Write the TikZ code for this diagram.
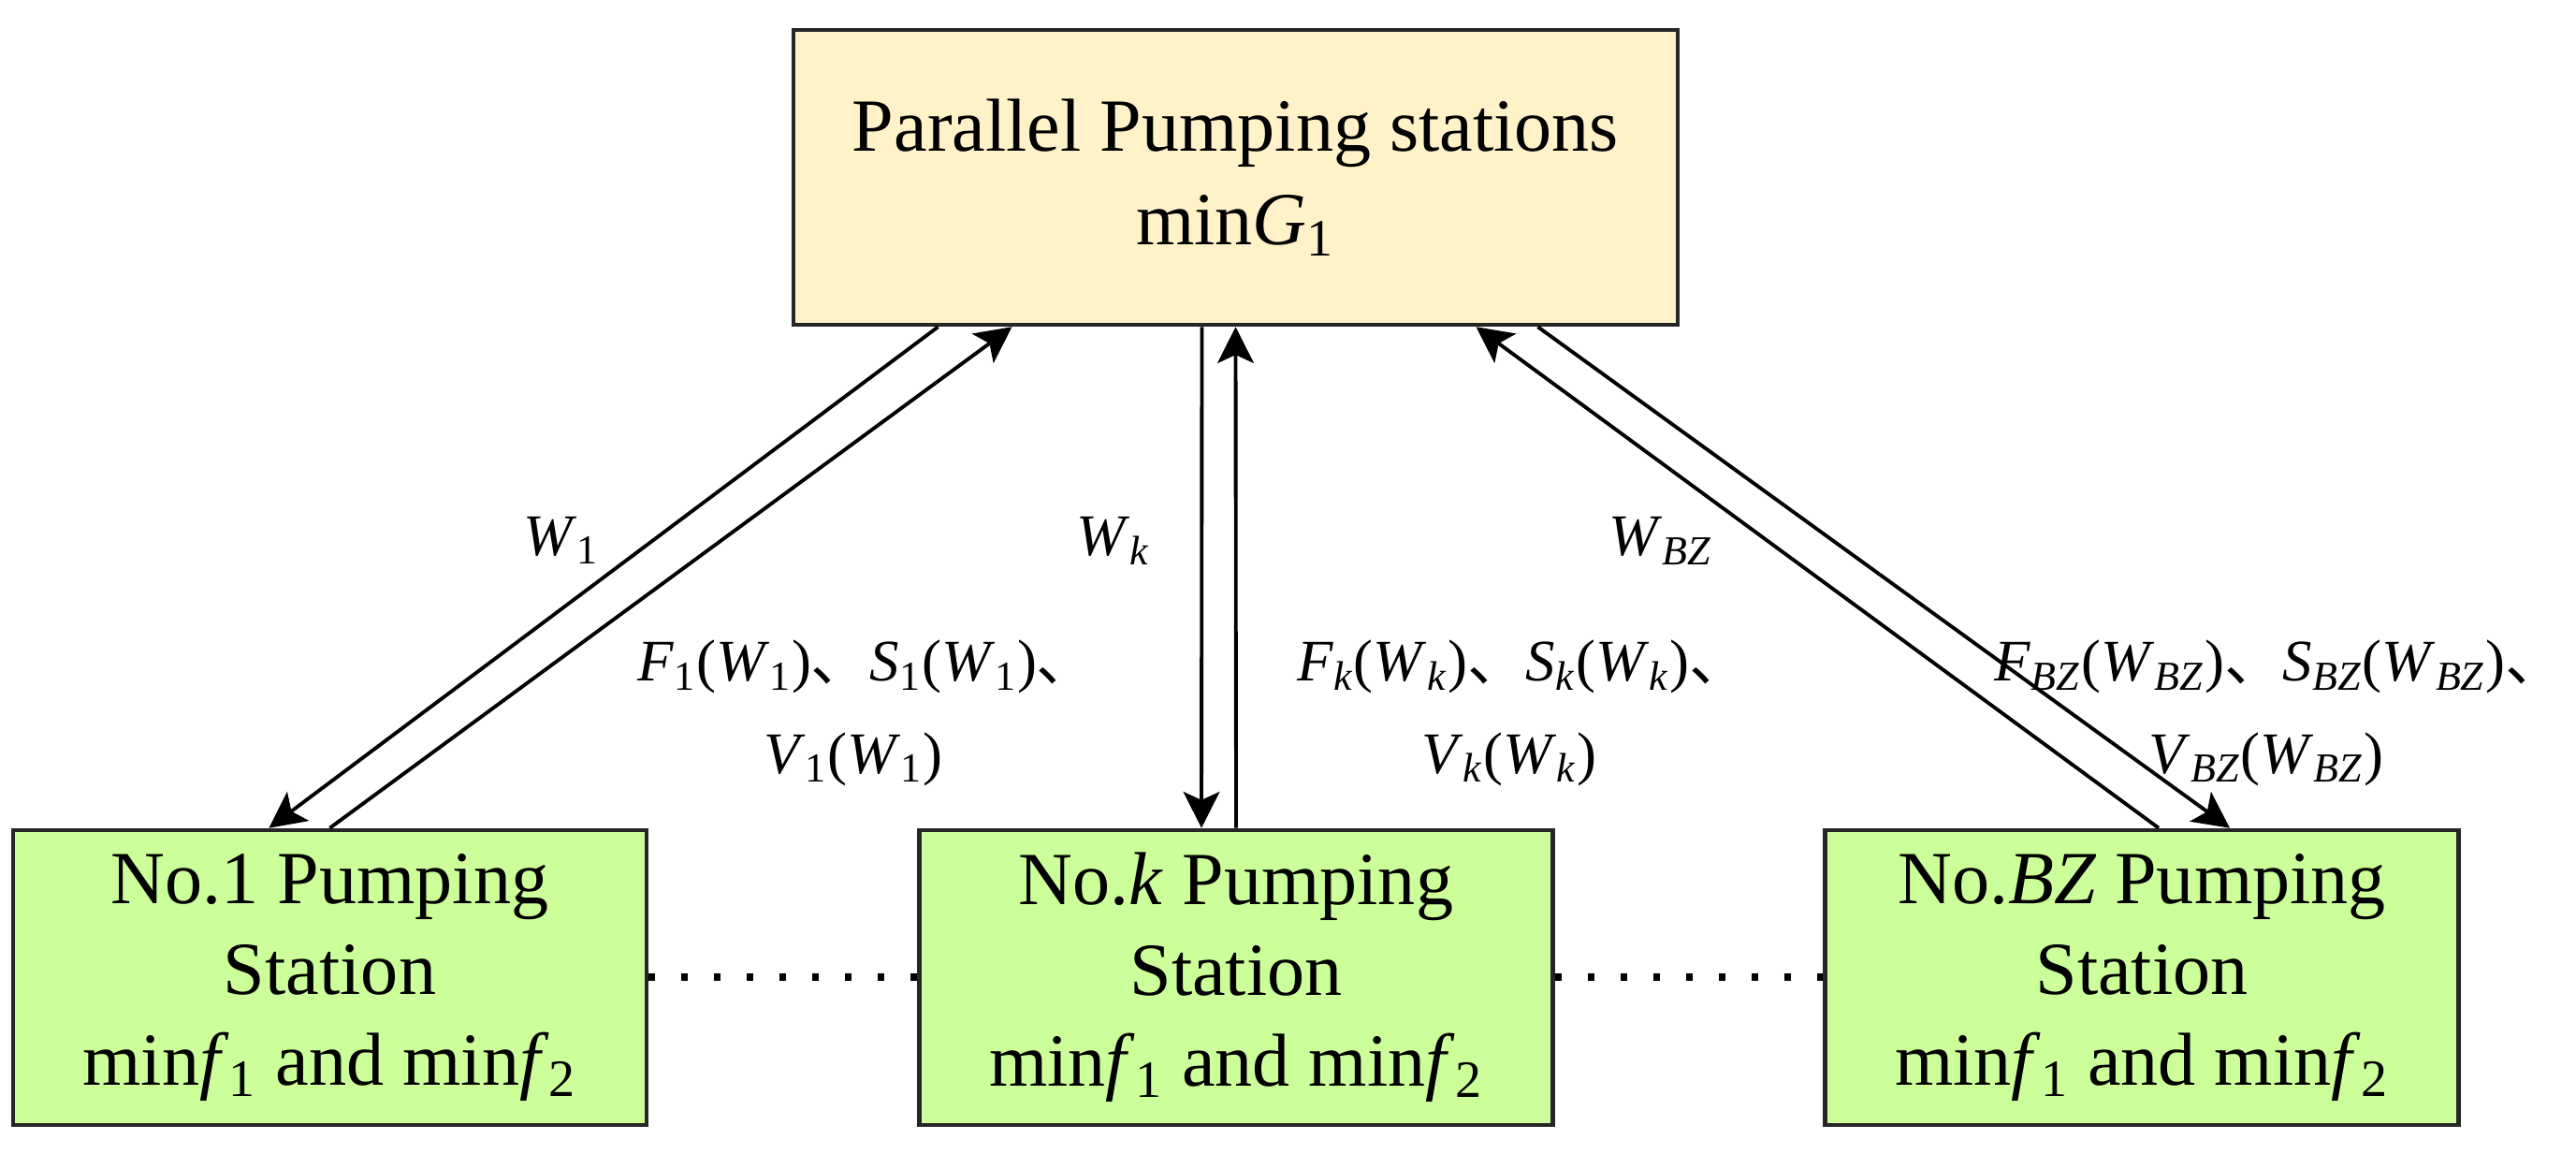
\documentclass[tikz,border=0pt]{standalone}
\usepackage{fontspec}
\setmainfont{Liberation Serif}
\newfontfamily\cjk{Noto Sans CJK SC}
\usetikzlibrary{arrows.meta}
\definecolor{topfill}{RGB}{255,242,200}
\definecolor{stfill}{RGB}{204,255,153}
\newcommand{\vsub}[2]{\textit{#1}\textsubscript{#2}}
\newcommand{\dun}{{\cjk 、}}
\newcommand{\dunend}{\makebox[0.55em][l]{\cjk 、}}

\begin{document}
\begin{tikzpicture}[
  box/.style={draw=black!85, line width=1.3pt, minimum height=3.15cm, align=center, inner sep=0pt, font=\fontsize{22.8}{27.6}\selectfont},
  lbl/.style={align=center, inner sep=0pt, font=\fontsize{17.9}{28}\selectfont},
  flow/.style={-{Stealth[length=11pt,width=11pt,inset=2.5pt]}, line width=1.1pt}]
\useasboundingbox (0,0) rectangle (27.53,12.33);
% boxes
\node[box, fill=topfill, minimum width=9.45cm, font=\fontsize{22.8}{28.4}\selectfont] (top) at (13.205,10.435) {Parallel Pumping stations\\min\vsub{G}{1}};
\node[box, fill=stfill, minimum width=6.77cm] (st1) at (3.525,1.885) {No.1 Pumping\\Station\\min\vsub{f}{1} and min\vsub{f}{2}};
\node[box, fill=stfill, minimum width=6.77cm] (stk) at (13.21,1.885) {No.\textit{k} Pumping\\Station\\min\vsub{f}{1} and min\vsub{f}{2}};
\node[box, fill=stfill, minimum width=6.77cm] (stbz) at (22.89,1.885) {No.\textit{BZ} Pumping\\Station\\min\vsub{f}{1} and min\vsub{f}{2}};
% arrows
\draw[flow] ([xshift=-3.18cm]top.south) -- ([xshift=-0.65cm]st1.north);
\draw[flow] (st1.north) -- ([xshift=-2.39cm]top.south);
\draw[flow] ([xshift=-0.36cm]top.south) -- ([xshift=-0.37cm]stk.north);
\draw[flow] (stk.north) -- (top.south);
\draw[flow] ([xshift=3.23cm]top.south) -- ([xshift=0.94cm]stbz.north);
\draw[flow] ([xshift=0.18cm]stbz.north) -- ([xshift=2.57cm]top.south);
% dots between stations
\draw[line width=0.08cm, dash pattern=on 0.07cm off 0.28cm] (st1.east) -- (stk.west);
\draw[line width=0.08cm, dash pattern=on 0.07cm off 0.28cm] (stk.east) -- (stbz.west);
% labels
\node[lbl] (w1) at (6.00,6.56) {\vsub{W}{1}};
\node[lbl] (wk) at (11.90,6.55) {\vsub{W}{\textit{k}}};
\node[lbl] (wbz) at (17.75,6.55) {\vsub{W}{\textit{BZ}}};
\node[lbl] (f1) at (9.12,4.71) {\vsub{F}{1}(\vsub{W}{1})\dun\vsub{S}{1}(\vsub{W}{1})\dunend\\\vsub{V}{1}(\vsub{W}{1})};
\node[lbl] (fk) at (16.13,4.71) {\vsub{F}{\textit{k}}(\vsub{W}{\textit{k}})\dun\vsub{S}{\textit{k}}(\vsub{W}{\textit{k}})\dunend\\\vsub{V}{\textit{k}}(\vsub{W}{\textit{k}})};
\node[lbl] (fbz) at (24.22,4.71) {\vsub{F}{\textit{BZ}}(\vsub{W}{\textit{BZ}})\dun\vsub{S}{\textit{BZ}}(\vsub{W}{\textit{BZ}})\dunend\\\vsub{V}{\textit{BZ}}(\vsub{W}{\textit{BZ}})};
\end{tikzpicture}
\end{document}
